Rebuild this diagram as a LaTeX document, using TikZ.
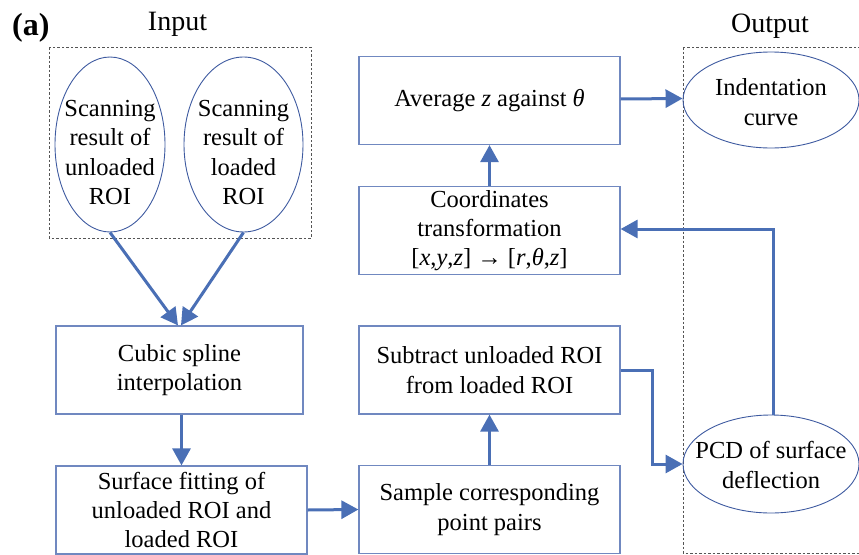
\documentclass[tikz,border=0pt]{standalone}
\usepackage{fontspec}
\setmainfont{Liberation Serif}
\usetikzlibrary{arrows.meta,shapes.geometric}
\definecolor{flowblue}{HTML}{4A6FB5}
\definecolor{boxline}{HTML}{7088C0}
\definecolor{ellline}{HTML}{3E5AA0}
\definecolor{framegray}{HTML}{555555}

\begin{document}
\begin{tikzpicture}[x=1pt,y=-1pt,
  every node/.style={font=\fontsize{24.5}{29.3}\selectfont, align=center, inner sep=0pt, text=black},
  stepbox/.style={draw=boxline, line width=1.2pt, rectangle, minimum width=#1, minimum height=88pt},
  oval/.style={draw=ellline, line width=0.9pt, ellipse, inner sep=0pt},
  flow/.style={draw=flowblue, line width=3pt, -{Triangle[length=17pt 0 0,width=18pt 0 0]}},
  groupframe/.style={draw=framegray, line width=0.8pt, dash pattern=on 2.5pt off 2pt},
  heading/.style={font=\fontsize{28}{32}\selectfont, anchor=base}
]
\useasboundingbox (0,0) rectangle (859,554);
\clip (0,0) rectangle (859,554);

% panel tag and group titles
\node[font=\fontsize{32}{36}\selectfont\bfseries, anchor=base west] (tag) at (12,35) {(a)};
\node[heading] (inTitle) at (177.5,30) {Input};
\node[heading] (outTitle) at (770,32) {Output};

% dashed group frames
\draw[groupframe] (49,47) rectangle (311,238);
\draw[groupframe] (683,47) rectangle (880,553);

% input scans
\node[oval, minimum width=110pt, minimum height=175pt] (scanU) at (110,144.5) {};
\node[oval, minimum width=119pt, minimum height=175pt] (scanL) at (243.5,144.5) {};
\node (scanUt) at (110,152.5) {Scanning\\result of\\unloaded\\ROI};
\node (scanLt) at (243.5,152.5) {Scanning\\result of\\loaded\\ROI};

% left column
\node[stepbox=247pt] (cubic) at (179.5,370) {Cubic spline\\interpolation};
\node[stepbox=251pt] (surface) at (181.5,510) {Surface fitting of\\unloaded ROI and\\loaded ROI};

% middle column
\node[stepbox=261pt] (avg) at (489.5,100.5) {Average \textit{z} against \textit{θ}};
\node[stepbox=261pt] (coord) at (489.5,230.5) {Coordinates\\transformation\\{}[\textit{x},\textit{y},\textit{z}] → [\textit{r},\textit{θ},\textit{z}]};
\node[stepbox=261pt] (sub) at (489.5,370) {Subtract unloaded ROI\\from loaded ROI};
\node[stepbox=261pt] (sample) at (489.5,509.5) {Sample corresponding\\point pairs};

% outputs
\node[oval, minimum width=176pt, minimum height=96pt] (indent) at (771,100) {};
\node (indentt) at (771,102) {Indentation\\curve};
\node[oval, minimum width=176pt, minimum height=98pt] (pcd) at (771,464) {};
\node (pcdt) at (771,465) {PCD of surface\\deflection};

% connectors
\draw[flow] (scanU.south) -- ([xshift=-1.5pt]cubic.north);
\draw[flow] (scanL.south) -- ([xshift=1.5pt]cubic.north);
\draw[flow] (surface.north |- cubic.south) -- (surface.north);
\draw[flow] (surface.east) -- (sample.west);
\draw[flow] (sample.north) -- (sub.south);
\draw[flow] (sub.east) -- ++(32,0) |- (pcd.west);
\draw[flow] ([xshift=2pt]pcd.north) |- ([yshift=1.5pt]coord.east);
\draw[flow] (coord.north) -- (avg.south);
\draw[flow] ([yshift=1.5pt]avg.east) -- ([yshift=1.5pt]indent.west);
\end{tikzpicture}
\end{document}
